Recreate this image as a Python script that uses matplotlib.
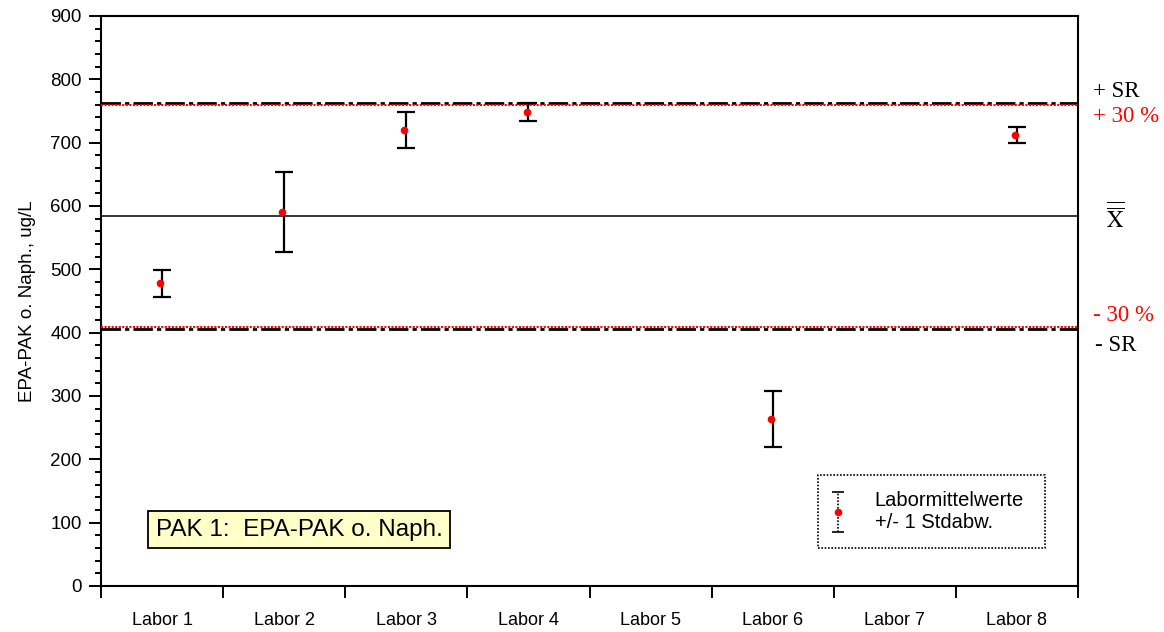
import numpy as np
import matplotlib
matplotlib.use("Agg")
import matplotlib.pyplot as plt
from matplotlib.container import ErrorbarContainer
from matplotlib.legend_handler import HandlerErrorbar
from matplotlib.ticker import MultipleLocator, FixedLocator, NullFormatter

# Ringversuch PAK 1: Labormittelwerte mit Standardabweichung
labs = ["Labor 1", "Labor 2", "Labor 3", "Labor 4",
        "Labor 5", "Labor 6", "Labor 7", "Labor 8"]
lab_mean = [478, 590, 720, 748, np.nan, 264, np.nan, 712]
lab_sd = [21, 63, 28, 14, np.nan, 44, np.nan, 13]

grand_mean = 584
sr_upper = 762
sr_lower = 406
pct = 0.30

plt.rcParams['font.family'] = ['Liberation Sans', 'DejaVu Sans']

fig = plt.figure(figsize=(11.64, 6.32), dpi=100)
ax = fig.add_axes([0.0868, 0.0728, 0.8393, 0.9019])

x = np.arange(len(labs)) + 0.5

# Grenzlinien
ax.axhline(sr_upper, color="black", lw=2.0, ls=(0, (7, 1.5, 1.5, 1.5)), zorder=2)
ax.axhline(sr_lower, color="black", lw=2.0, ls=(0, (7, 1.5, 1.5, 1.5)), zorder=2)
ax.axhline(grand_mean * (1 + pct), color="red", lw=1.5, ls=(0, (1, 0.7)), zorder=3)
ax.axhline(grand_mean * (1 - pct), color="red", lw=1.5, ls=(0, (1, 0.7)), zorder=3)
ax.axhline(grand_mean, color="black", lw=1.1, zorder=2)

# Labormittelwerte
ax.errorbar(x, lab_mean, yerr=lab_sd, fmt="none", ecolor="black",
            elinewidth=1.6, capsize=6.7, capthick=1.6, zorder=4)
ax.plot(x - 0.015, lab_mean, "o", color="red", ms=5.5, mec="none", zorder=5)

# nur fuer die Legende
leg_eb = ax.errorbar([np.nan], [np.nan], yerr=[1], fmt="o", color="red",
                     ms=5.5, mec="none", ecolor="black", elinewidth=1.2,
                     capsize=4, capthick=1.2)
leg_eb[2][0].set_linestyle((0, (1, 1)))

ax.set_xlim(0, len(labs))
ax.set_ylim(0, 900)

ax.xaxis.set_major_locator(FixedLocator(np.arange(len(labs) + 1)))
ax.xaxis.set_major_formatter(NullFormatter())
ax.xaxis.set_minor_locator(FixedLocator(x))
ax.set_xticklabels(labs, minor=True)
ax.tick_params(axis="x", which="major", direction="out", length=8.5, width=1.4)
ax.tick_params(axis="x", which="minor", length=0, pad=19, labelsize=13)

ax.yaxis.set_major_locator(MultipleLocator(100))
ax.yaxis.set_minor_locator(MultipleLocator(20))
ax.tick_params(axis="y", which="major", direction="out", length=8.5, width=1.4,
               labelsize=13.5, pad=5.5)
ax.tick_params(axis="y", which="minor", direction="out", length=4.3, width=1.4)

for s in ax.spines.values():
    s.set_linewidth(1.5)

ax.set_ylabel("EPA-PAK o. Naph., ug/L", fontsize=13.5, labelpad=10)

# Beschriftung rechts
serif = ['Liberation Serif', 'DejaVu Serif']
tr = ax.get_yaxis_transform()
ax.text(1.0155, sr_upper + 2, "+ SR", transform=tr, family=serif, fontsize=16.5,
        va="bottom", ha="left")
ax.text(1.0155, grand_mean * (1 + pct) - 1, "+ 30 %", transform=tr, family=serif,
        fontsize=16.5, color="red", va="top", ha="left")
ax.text(1.0385, grand_mean - 3, r"$\overline{\overline{\mathrm{X}}}$", transform=tr,
        fontsize=16.5, math_fontfamily="stix", va="center", ha="center")
ax.text(1.0155, grand_mean * (1 - pct) + 1, "- 30 %", transform=tr, family=serif,
        fontsize=16.5, color="red", va="bottom", ha="left")
ax.text(1.0175, sr_lower - 10, "- SR", transform=tr, family=serif, fontsize=16.5,
        va="top", ha="left")

# Probenbezeichnung
ax.text(0.2027, 0.099, "PAK 1:  EPA-PAK o. Naph.", transform=ax.transAxes,
        fontsize=17.5, ha="center", va="center",
        bbox=dict(boxstyle="square,pad=0.32", fc="#FFFFC8", ec="black", lw=1.3))

leg = ax.legend([leg_eb], ["Labormittelwerte\n+/- 1 Stdabw."],
                handler_map={ErrorbarContainer: HandlerErrorbar(yerr_size=1.0)},
                loc="center", bbox_to_anchor=(0.734, 0.0667, 0.232, 0.128),
                mode="expand", fontsize=14.5, fancybox=False, framealpha=1,
                borderpad=0.8, handlelength=0.4, handletextpad=1.6,
                borderaxespad=0)
leg.get_frame().set_edgecolor("black")
leg.get_frame().set_linewidth(1.2)
leg.get_frame().set_linestyle((0, (1, 1)))

fig.savefig("out.png", dpi=100)
